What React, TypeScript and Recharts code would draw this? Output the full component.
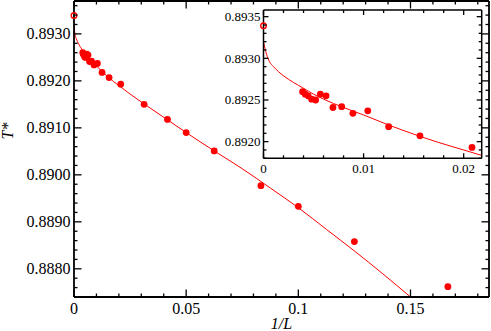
import React from 'react';
import { ComposedChart, XAxis, YAxis, Line, Scatter } from 'recharts';

// ---- data ----
const invL = [0.00391, 0.00417, 0.00446, 0.00481, 0.00521, 0.00568, 0.00625, 0.00694, 0.00781, 0.00893, 0.01042, 0.0125, 0.01563, 0.02083, 0.03125, 0.04167, 0.05, 0.0625, 0.08333, 0.1, 0.125, 0.16667];
const tStar = [0.8926, 0.89257, 0.89255, 0.89251, 0.8925, 0.89257, 0.89255, 0.89241, 0.89242, 0.89234, 0.89237, 0.89218, 0.89207, 0.89193, 0.8915, 0.89118, 0.8909, 0.89051, 0.88977, 0.88933, 0.88858, 0.88762];
const extrapX = [0];
const extrapT = [0.89339];
const fitX = [0, 0.00015, 0.0003, 0.0006, 0.001, 0.0015, 0.002, 0.003, 0.004, 0.005, 0.006, 0.008, 0.01, 0.0125, 0.015, 0.0175, 0.02, 0.025, 0.03125, 0.04167, 0.05, 0.0625, 0.075, 0.0875, 0.1, 0.1125, 0.125, 0.1375, 0.15];
const fitT = [0.8932, 0.89312, 0.89305, 0.89296, 0.8929, 0.89284, 0.89279, 0.89271, 0.89264, 0.89257, 0.89251, 0.89241, 0.89232, 0.8922, 0.89209, 0.89199, 0.8919, 0.89172, 0.89151, 0.89117, 0.8909, 0.89051, 0.89013, 0.88972, 0.8893, 0.88884, 0.88838, 0.8879, 0.8874];

// ---- ticks ----
const mainXMajor = [0, 0.05, 0.1, 0.15];
const mainXLabels = ['0', '0.05', '0.1', '0.15'];
const mainXMinor = [0.01, 0.02, 0.03, 0.04, 0.06, 0.07, 0.08, 0.09, 0.11, 0.12, 0.13, 0.14, 0.16, 0.17, 0.18];
const mainYMajor = [0.888, 0.889, 0.89, 0.891, 0.892, 0.893];
const mainYLabels = ['0.8880', '0.8890', '0.8900', '0.8910', '0.8920', '0.8930'];
const insetXMajor = [0, 0.01, 0.02];
const insetXLabels = ['0', '0.01', '0.02'];
const insetXMinor = [0.002, 0.004, 0.006, 0.008, 0.012, 0.014, 0.016, 0.018];
const insetYMajor = [0.892, 0.8925, 0.893, 0.8935];
const insetYLabels = ['0.8920', '0.8925', '0.8930', '0.8935'];

const steps = (from: number, to: number, step: number, dec: number) => {
  const out: number[] = [];
  const n = Math.round((to - from) / step);
  for (let i = 0; i <= n; i++) out.push(Number((from + i * step).toFixed(dec)));
  return out;
};
const mainYTicks = steps(0.8874, 0.8936, 0.0002, 4);
const insetYTicks = steps(0.8918, 0.8935, 0.0001, 4);
const mainXTicks = [...mainXMajor, ...mainXMinor].sort((a, b) => a - b);
const insetXTicks = [...insetXMajor, ...insetXMinor].sort((a, b) => a - b);

const pts = (xs: number[], ys: number[]) => xs.map((x, i) => ({ x, y: ys[i] }));
const mainPoints = pts(invL, tStar);
const insetPoints = mainPoints.filter((p) => p.x < 0.022);
const extrapPoints = pts(extrapX, extrapT);
const fitData = pts(fitX, fitT);

const FONT = 'Liberation Serif';
const RED = '#ff0000';

type Side = 'bottom' | 'top' | 'left' | 'right';
const makeTick = (side: Side, majors: number[], labels: string[] | null, majLen: number, minLen: number, fontSize: number, gap: number) =>
  (props: any) => {
    const { x, y, payload } = props;
    const v = payload.value;
    const idx = majors.findIndex((m) => Math.abs(m - v) < 1e-9);
    const len = idx >= 0 ? majLen : minLen;
    const ts = { fontFamily: FONT, fontSize, fill: '#000' };
    let line;
    let label = null;
    if (side === 'bottom') {
      line = <line x1={x} y1={y} x2={x} y2={y - len} stroke="#000" strokeWidth={1.3} />;
      if (labels && idx >= 0)
        label = <text x={x} y={y + gap} textAnchor="middle" style={ts}>{labels[idx]}</text>;
    } else if (side === 'top') {
      line = <line x1={x} y1={y} x2={x} y2={y + len} stroke="#000" strokeWidth={1.3} />;
    } else if (side === 'left') {
      line = <line x1={x} y1={y} x2={x + len} y2={y} stroke="#000" strokeWidth={1.3} />;
      if (labels && idx >= 0)
        label = <text x={x - gap} y={y + fontSize * 0.33} textAnchor="end" style={ts}>{labels[idx]}</text>;
    } else {
      line = <line x1={x} y1={y} x2={x - len} y2={y} stroke="#000" strokeWidth={1.3} />;
    }
    return <g>{line}{label}</g>;
  };

const Dot = (props: any) => <circle cx={props.cx} cy={props.cy} r={3.4} fill={RED} />;
const OpenDot = (props: any) => <circle cx={props.cx} cy={props.cy} r={2.8} fill="none" stroke={RED} strokeWidth={1.4} />;

export default function App() {
  return (
    <div style={{ position: 'absolute', left: 0, top: 0, width: 491, height: 331, background: '#fff', fontFamily: FONT }}>
      <div style={{ position: 'absolute', left: 0, top: 0 }}>
        <ComposedChart width={491} height={331} margin={{ top: 0, right: 0, bottom: 0, left: 0 }}>
          <XAxis xAxisId="b" dataKey="x" type="number" domain={[0, 0.185]} ticks={mainXTicks} interval={0}
            tickSize={0} tickMargin={0} tickLine={false} height={34}
            axisLine={{ stroke: '#000', strokeWidth: 1.8 }}
            tick={makeTick('bottom', mainXMajor, mainXLabels, 7.5, 3.5, 16, 16.8)}
            label={{
              content: () => (
                <text x={281.5} y={329} textAnchor="middle" style={{ fontFamily: FONT, fontStyle: 'italic', fontSize: 16, fill: '#000' }}>1/L</text>
              ),
            }} />
          <XAxis xAxisId="t" dataKey="x" type="number" orientation="top" domain={[0, 0.185]} allowDataOverflow ticks={mainXTicks} interval={0}
            tickSize={0} tickMargin={0} tickLine={false} height={1}
            axisLine={{ stroke: '#000', strokeWidth: 1.8 }}
            tick={makeTick('top', mainXMajor, null, 7.5, 3.5, 16, 0)} />
          <YAxis yAxisId="l" dataKey="y" type="number" domain={[0.8874, 0.8937]} ticks={mainYTicks} interval={0}
            tickSize={0} tickMargin={0} tickLine={false} width={74}
            axisLine={{ stroke: '#000', strokeWidth: 1.8 }}
            tick={makeTick('left', mainYMajor, mainYLabels, 7.5, 3.5, 16, 3.5)}
            label={{
              content: () => (
                <text x={13} y={131} transform="rotate(-90 13 131)" textAnchor="middle" style={{ fontFamily: FONT, fontStyle: 'italic', fontSize: 16, fill: '#000' }}>T*</text>
              ),
            }} />
          <YAxis yAxisId="r" dataKey="y" type="number" orientation="right" domain={[0.8874, 0.8937]} allowDataOverflow ticks={mainYTicks} interval={0}
            tickSize={0} tickMargin={0} tickLine={false} width={2}
            axisLine={{ stroke: '#000', strokeWidth: 1.8 }}
            tick={makeTick('right', mainYMajor, null, 7.5, 3.5, 16, 0)} />
          <Line xAxisId="t" yAxisId="r" data={fitData} dataKey="y" type="monotone" stroke={RED} strokeWidth={1} dot={false} activeDot={false} isAnimationActive={false} />
          <Scatter xAxisId="b" yAxisId="l" data={mainPoints} dataKey="y" shape={Dot} isAnimationActive={false} />
          <Scatter xAxisId="b" yAxisId="l" data={extrapPoints} dataKey="y" shape={OpenDot} isAnimationActive={false} />
        </ComposedChart>
      </div>
      <div style={{ position: 'absolute', left: 215, top: 0 }}>
        <ComposedChart width={276} height={180} margin={{ top: 0, right: 0, bottom: 0, left: 0 }}>
          <XAxis xAxisId="b" dataKey="x" type="number" domain={[0, 0.0218]} ticks={insetXTicks} interval={0}
            tickSize={0} tickMargin={0} tickLine={false} height={21.7}
            axisLine={{ stroke: '#000', strokeWidth: 1.5 }}
            tick={makeTick('bottom', insetXMajor, insetXLabels, 5, 3, 13, 14.4)} />
          <XAxis xAxisId="t" dataKey="x" type="number" orientation="top" domain={[0, 0.0218]} allowDataOverflow ticks={insetXTicks} interval={0}
            tickSize={0} tickMargin={0} tickLine={false} height={10}
            axisLine={{ stroke: '#000', strokeWidth: 1.5 }}
            tick={makeTick('top', insetXMajor, null, 5, 3, 13, 0)} />
          <YAxis yAxisId="l" dataKey="y" type="number" domain={[0.8918, 0.89358]} ticks={insetYTicks} interval={0}
            tickSize={0} tickMargin={0} tickLine={false} width={48.5}
            axisLine={{ stroke: '#000', strokeWidth: 1.5 }}
            tick={makeTick('left', insetYMajor, insetYLabels, 5, 3, 13, 3)} />
          <YAxis yAxisId="r" dataKey="y" type="number" orientation="right" domain={[0.8918, 0.89358]} allowDataOverflow ticks={insetYTicks} interval={0}
            tickSize={0} tickMargin={0} tickLine={false} width={9.3}
            axisLine={{ stroke: '#000', strokeWidth: 1.5 }}
            tick={makeTick('right', insetYMajor, null, 5, 3, 13, 0)} />
          <Line xAxisId="t" yAxisId="r" data={fitData} dataKey="y" type="monotone" stroke={RED} strokeWidth={1} dot={false} activeDot={false} isAnimationActive={false} />
          <Scatter xAxisId="b" yAxisId="l" data={insetPoints} dataKey="y" shape={Dot} isAnimationActive={false} />
          <Scatter xAxisId="b" yAxisId="l" data={extrapPoints} dataKey="y" shape={OpenDot} isAnimationActive={false} />
        </ComposedChart>
      </div>
    </div>
  );
}
